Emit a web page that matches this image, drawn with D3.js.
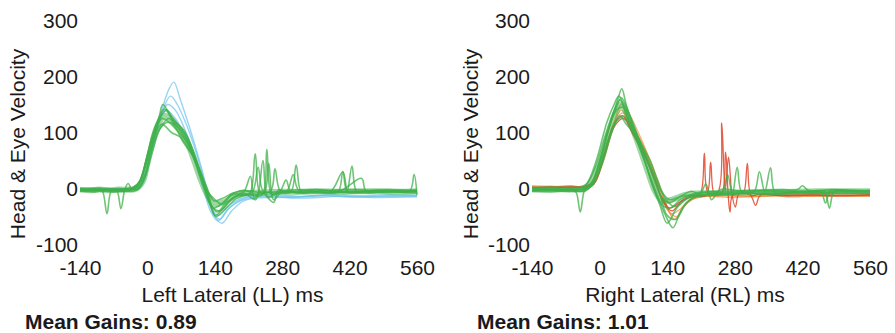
<!DOCTYPE html>
<html>
<head>
<meta charset="utf-8">
<script src="https://cdn.jsdelivr.net/npm/d3@7"></script>
<style>
  body { margin: 0; background: #fff; }
  svg text { font-family: "Liberation Sans", Arial, Helvetica, sans-serif; fill: #1a1a1a; }
</style>
</head>
<body>
<svg id="chart"></svg>
<script>
// tick values
const msTicks = [-140, 0, 140, 280, 420, 560];
const velTicks = [-100, 0, 100, 200, 300];

// each trace = [ms, deg/s] pairs
// --- Left Lateral ---
const leftCore = [[-140,-2],[-120,-3],[-100,-2],[-80,-3],[-60,-2],[-40,-2],[-25,-1],[-10,12],[0,45],[10,80],[20,110],[35,130],[50,122],[65,108],[80,88],[95,55],[110,18],[125,-12],[140,-28],[160,-24],[180,-14],[200,-9],[240,-7],[280,-6],[320,-6],[360,-5],[400,-6],[440,-5],[480,-5],[520,-6],[560,-5]];

const leftGreen = [
  [[-140,-1],[-110,-3],[-95,-2],[-84,-45],[-75,-4],[-64,-3],[-55,-36],[-47,-2],[-40,9],[-32,-1],[-18,0],[-5,25],[10,78],[25,130],[32,150],[45,135],[60,118],[80,95],[100,52],[115,12],[130,-25],[145,-42],[165,-24],[190,-12],[212,-10],[224,62],[234,-8],[250,-7],[290,-5],[330,-7],[370,-4],[410,-6],[450,-5],[500,-7],[560,-4]],
  [[-140,-5],[-100,-4],[-70,-6],[-40,-4],[-20,3],[-5,40],[10,95],[25,125],[40,140],[55,120],[75,105],[95,68],[110,30],[125,-8],[140,-48],[158,-35],[180,-15],[205,-10],[238,-12],[248,70],[258,-10],[275,-6],[288,15],[298,-5],[330,-4],[375,-8],[420,-5],[470,-7],[520,-4],[560,-6]],
  [[-140,-3],[-110,-2],[-80,-4],[-50,-2],[-25,0],[-8,30],[8,70],[25,105],[40,118],[60,112],[80,90],[100,48],[118,5],[132,-30],[150,-40],[172,-22],[200,-8],[225,-20],[240,50],[250,-15],[270,-8],[298,-6],[309,42],[320,-7],[340,-5],[380,-6],[406,30],[415,-5],[425,40],[435,-6],[460,-4],[510,-5],[560,-3]],
  [[-140,0],[-100,1],[-60,-1],[-30,2],[-15,15],[0,58],[15,100],[30,125],[45,118],[65,100],[85,80],[100,45],[118,0],[135,-35],[150,-30],[175,-12],[200,-6],[214,22],[222,-18],[235,-5],[262,-25],[272,-3],[290,-4],[303,25],[314,-3],[350,-2],[400,-4],[445,18],[454,-4],[500,-3],[545,-4],[554,25],[560,-12]],
  [[-140,-4],[-110,-6],[-80,-3],[-50,-5],[-20,-2],[-5,20],[10,65],[28,110],[45,125],[58,110],[75,82],[92,62],[108,35],[122,5],[138,-22],[155,-18],[178,-8],[200,-3],[218,-6],[230,38],[240,-4],[260,-8],[300,-7],[350,-8],[400,-7],[450,-8],[500,-6],[560,-8]],
  [[-140,-2],[-110,-1],[-80,-2],[-50,-1],[-30,2],[-15,12],[0,60],[20,118],[35,142],[50,125],[70,100],[92,65],[112,20],[128,-15],[142,-50],[160,-38],[185,-18],[210,-10],[242,-8],[252,45],[262,-20],[280,-6],[320,-8],[360,-5],[396,-6],[406,30],[416,-6],[450,-5],[490,-4],[530,-6],[560,-5]],
  [[-140,-3],[-100,-2],[-60,-4],[-35,-1],[-20,6],[-3,48],[15,95],[30,115],[50,100],[68,92],[85,72],[105,38],[120,0],[138,-18],[155,-28],[175,-10],[200,-4],[255,-5],[265,35],[276,-4],[300,-3],[340,-2],[380,-3],[420,-2],[460,-3],[500,-2],[560,-3]]
];

const leftBlue = [
  [[-140,-2],[-100,-1],[-60,-2],[-30,0],[-12,6],[5,55],[25,125],[45,178],[55,190],[68,160],[88,108],[108,50],[125,-5],[140,-50],[155,-62],[175,-40],[200,-22],[240,-15],[300,-16],[360,-13],[420,-15],[480,-14],[560,-14]],
  [[-140,-1],[-100,-2],[-60,0],[-30,-1],[-10,10],[8,65],[28,130],[48,165],[62,150],[82,112],[102,62],[120,8],[135,-40],[150,-55],[170,-35],[200,-18],[250,-13],[310,-15],[370,-12],[430,-15],[500,-13],[560,-13]],
  [[-140,-3],[-90,-2],[-50,-3],[-20,0],[0,40],[22,115],[42,150],[58,140],[78,105],[100,55],[118,5],[133,-35],[148,-48],[170,-30],[200,-16],[260,-11],[320,-14],[380,-11],[440,-13],[500,-11],[560,-12]],
  [[-140,0],[-100,-1],[-60,0],[-25,1],[-5,25],[18,100],[38,140],[55,128],[75,100],[98,50],[116,0],[132,-42],[147,-58],[168,-36],[200,-20],[260,-16],[330,-17],[400,-14],[470,-16],[560,-15]]
];

// --- Right Lateral ---
const rightCore = [[-140,-2],[-100,-1],[-60,-2],[-35,0],[-20,8],[0,42],[20,100],[35,138],[45,150],[60,125],[80,80],[100,30],[115,-5],[130,-22],[150,-20],[175,-12],[200,-9],[250,-8],[300,-7],[350,-6],[400,-6],[450,-5],[500,-5],[560,-5]];

const rightGreen = [
  [[-140,-3],[-110,-2],[-80,-4],[-55,-2],[-48,-8],[-40,-42],[-32,-5],[-25,3],[-10,20],[5,60],[22,115],[38,160],[46,178],[55,150],[72,105],[90,60],[108,10],[125,-30],[140,-62],[160,-35],[185,-15],[215,-10],[250,-8],[300,-6],[320,-6],[331,30],[342,-6],[354,37],[364,-8],[400,-6],[450,-5],[466,-5],[476,-35],[486,-5],[520,-4],[560,-5]],
  [[-140,0],[-100,1],[-70,-1],[-40,1],[-25,10],[-8,40],[10,90],[28,135],[42,158],[55,132],[75,90],[95,45],[112,0],[128,-28],[145,-35],[170,-18],[200,-8],[240,-6],[255,-6],[265,25],[275,-10],[285,38],[295,-8],[320,-5],[380,-4],[440,-6],[458,-5],[468,-26],[478,-4],[520,-5],[560,-3]],
  [[-140,-4],[-100,-3],[-60,-5],[-30,-3],[-15,12],[2,55],[20,110],[35,140],[48,145],[62,120],[82,75],[102,28],[118,-8],[135,-45],[152,-70],[168,-40],[190,-18],[220,-12],[260,-10],[320,-8],[380,-7],[440,-8],[500,-6],[560,-7]],
  [[-140,-2],[-100,-1],[-60,-2],[-30,-1],[-15,5],[5,45],[25,100],[42,130],[55,115],[70,100],[90,70],[110,30],[128,-5],[145,-20],[165,-15],[190,-5],[208,-10],[220,8],[232,-20],[250,-2],[290,-4],[330,-3],[380,-2],[410,-2],[420,5],[432,-3],[480,-2],[560,-4]],
  [[-140,-5],[-100,-6],[-60,-4],[-30,-5],[-18,5],[0,48],[18,105],[35,145],[45,162],[58,140],[78,95],[98,50],[115,10],[130,-18],[145,-25],[170,-14],[200,-12],[260,-10],[310,-9],[360,-10],[410,-8],[460,-9],[510,-8],[560,-9]],
  [[-140,-1],[-100,-2],[-60,0],[-35,-1],[-22,15],[-5,55],[15,118],[30,150],[40,165],[52,145],[70,110],[88,78],[105,50],[120,15],[138,-20],[155,-32],[175,-22],[200,-10],[230,-6],[280,-5],[330,-4],[390,-6],[440,-4],[500,-5],[560,-4]],
  [[-140,-3],[-100,-2],[-60,-3],[-40,-2],[-20,2],[-2,35],[18,88],[35,120],[50,128],[65,112],[85,80],[105,40],[122,0],[140,-48],[158,-55],[178,-28],[200,-14],[240,-10],[300,-8],[350,-9],[400,-8],[450,-7],[500,-9],[560,-8]]
];

const rightOrange = [
  [[-140,3],[-100,4],[-60,2],[-30,5],[-15,10],[5,45],[25,100],[45,150],[60,135],[80,100],[100,60],[120,15],[138,-30],[155,-55],[175,-32],[200,-16],[260,-13],[320,-15],[380,-12],[440,-14],[500,-13],[560,-12]],
  [[-140,1],[-100,2],[-60,4],[-30,2],[-12,8],[8,50],[28,110],[45,140],[62,120],[85,85],[108,40],[125,0],[142,-40],[160,-50],[180,-25],[210,-15],[270,-12],[330,-14],[390,-11],[450,-13],[510,-12],[560,-14]],
  [[-140,5],[-100,3],[-60,5],[-30,3],[-10,15],[10,65],[30,118],[48,135],[65,110],[90,72],[112,30],[130,-10],[148,-45],[165,-38],[190,-18],[220,-14],[280,-16],[340,-12],[400,-15],[460,-12],[520,-14],[560,-13]]
];

const rightRed = [
  [[-140,2],[-100,1],[-60,3],[-30,2],[-12,8],[8,55],[30,115],[48,130],[65,105],[88,70],[110,25],[128,-15],[145,-35],[165,-25],[190,-12],[208,-10],[217,63],[225,-8],[245,-6],[253,117],[260,-5],[267,56],[274,-10],[281,-33],[288,-10],[298,-8],[306,45],[314,-12],[330,-10],[380,-12],[440,-11],[500,-12],[560,-11]],
  [[-140,1],[-100,3],[-60,2],[-30,4],[-10,12],[10,60],[30,110],[50,125],[70,95],[92,60],[115,15],[132,-25],[150,-40],[170,-22],[195,-14],[221,-12],[230,47],[238,-10],[253,-8],[261,65],[266,-8],[270,-42],[276,-12],[312,-12],[323,-30],[333,-12],[380,-13],[440,-12],[500,-13],[560,-12]]
];

var svgWidth = 895, svgHeight = 333;
var svg = d3.select("#chart")
  .attr("width", svgWidth)
  .attr("height", svgHeight);

var green = "#3fb04a", blue = "#6cc3ec", orange = "#f08a3a", red = "#e0452a";

var y = d3.scaleLinear().domain([-100, 300]).range([244.5, 20.5]);

var panels = [
  { x0: 80, x1: 417, ylab: 25, title: "Left Lateral (LL) ms", gain: "Mean Gains: 0.89", gainX: 25,
    layers: [{ traces: leftBlue, color: blue, w: 1.4, op: 0.7 },
             { traces: [leftCore], color: green, w: 6, op: 0.5 },
             { traces: leftGreen, color: green, w: 1.6, op: 0.75 }] },
  { x0: 532, x1: 870, ylab: 478, title: "Right Lateral (RL) ms", gain: "Mean Gains: 1.01", gainX: 477,
    layers: [{ traces: rightOrange, color: orange, w: 1.4, op: 0.7 },
             { traces: rightRed, color: red, w: 1.3, op: 0.85 },
             { traces: [rightCore], color: green, w: 6, op: 0.5 },
             { traces: rightGreen, color: green, w: 1.6, op: 0.75 }] }
];

panels.forEach(function(p) {
  var x = d3.scaleLinear().domain([-140, 560]).range([p.x0, p.x1]);

  var line = d3.line()
    .x(d => x(d[0]))
    .y(d => y(d[1]))
    .curve(d3.curveCatmullRom.alpha(0.5));

  var g = svg.append("g");

  p.layers.forEach(function(l) {
    g.selectAll(null)
      .data(l.traces)
      .enter().append("path")
      .attr("d", line)
      .attr("fill", "none")
      .attr("stroke", l.color)
      .attr("stroke-width", l.w)
      .attr("stroke-opacity", l.op)
      .attr("stroke-linejoin", "round");
  });

  // y axis, labels only (plain hyphen minus like the original)
  var yAxis = svg.append("g")
    .attr("transform", `translate(${p.x0},0)`)
    .call(d3.axisLeft(y).tickValues(velTicks).tickFormat(d => String(d)).tickSize(0).tickPadding(2));
  yAxis.select(".domain").remove();
  yAxis.selectAll("text").style("font-size", "21px").attr("fill", "#1a1a1a");

  // x axis, labels only
  var xAxis = svg.append("g")
    .attr("transform", "translate(0,256)")
    .call(d3.axisBottom(x).tickValues(msTicks).tickFormat(d => String(d)).tickSize(0).tickPadding(4));
  xAxis.select(".domain").remove();
  xAxis.selectAll("text").style("font-size", "21px").attr("fill", "#1a1a1a");

  svg.append("text")
    .attr("transform", `translate(${p.ylab},144) rotate(-90)`)
    .style("text-anchor", "middle")
    .style("font-size", "21px")
    .text("Head & Eye Velocity");

  svg.append("text")
    .attr("x", (p.x0 + p.x1) / 2 - 16)
    .attr("y", 302)
    .style("text-anchor", "middle")
    .style("font-size", "21px")
    .text(p.title);

  svg.append("text")
    .attr("x", p.gainX)
    .attr("y", 329)
    .style("font-size", "21px")
    .style("font-weight", "bold")
    .text(p.gain);
});
</script>
</body>
</html>
